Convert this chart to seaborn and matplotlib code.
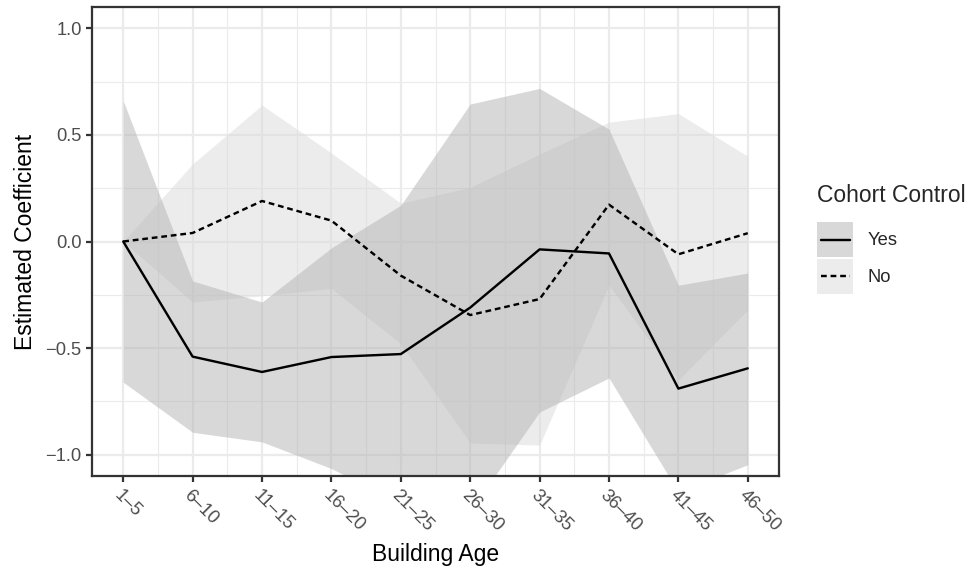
import numpy as np
import pandas as pd
import matplotlib
matplotlib.use("Agg")
import matplotlib.pyplot as plt
import seaborn as sns
from matplotlib.patches import Rectangle
from matplotlib.lines import Line2D
from matplotlib.ticker import MultipleLocator, FixedLocator

# building age bins
ages = ["1–5", "6–10", "11–15", "16–20", "21–25",
        "26–30", "31–35", "36–40", "41–45", "46–50"]

# cohort control: yes
yes_est = [0.0, -0.54, -0.612, -0.542, -0.528, -0.31, -0.037, -0.056, -0.69, -0.595]
yes_lo = [-0.66, -0.895, -0.94, -1.065, -1.23, -1.265, -0.80, -0.64, -1.175, -1.047]
yes_hi = [0.66, -0.185, -0.284, -0.03, 0.17, 0.645, 0.718, 0.527, -0.205, -0.148]

# cohort control: no
no_est = [0.0, 0.04, 0.19, 0.098, -0.16, -0.345, -0.27, 0.173, -0.06, 0.039]
no_lo = [0.0, -0.284, -0.255, -0.22, -0.48, -0.945, -0.955, -0.205, -0.65, -0.32]
no_hi = [0.0, 0.364, 0.64, 0.415, 0.18, 0.254, 0.41, 0.56, 0.60, 0.40]

groups = ["Yes", "No"]

df = pd.DataFrame({
    "age": ages * 2,
    "est": yes_est + no_est,
    "lo": yes_lo + no_lo,
    "hi": yes_hi + no_hi,
    "cohort": ["Yes"] * len(ages) + ["No"] * len(ages),
})
df["pos"] = df["age"].map({a: i for i, a in enumerate(ages)})

sns.set_style("white")
plt.rcParams["font.family"] = ["Liberation Sans", "DejaVu Sans"]

FILL = {"Yes": "#b3b3b3", "No": "#dbdbdb"}
DASH = {"Yes": "", "No": (2.4, 1.6)}
LW = 1.15


class RibbonKey:
    """legend key: ribbon fill behind a line, like ggplot"""
    def __init__(self, group):
        self.group = group


class RibbonKeyHandler:
    def legend_artist(self, legend, orig_handle, fontsize, handlebox):
        g = orig_handle.group
        x0, y0 = -handlebox.xdescent, -handlebox.ydescent
        w, h = handlebox.width, handlebox.height
        tr = handlebox.get_transform()
        rect = Rectangle((x0, y0 + 0.3), w, h - 0.6, facecolor=FILL[g], alpha=0.5,
                         edgecolor="none", transform=tr)
        line = Line2D([x0 + 0.1 * w, x0 + 0.9 * w], [y0 + h / 2] * 2,
                      color="black", lw=LW, transform=tr)
        if DASH[g]:
            line.set_dashes(DASH[g])
        handlebox.add_artist(rect)
        handlebox.add_artist(line)
        return rect


W, H, DPI = 979, 573, 150
fig = plt.figure(figsize=(W / DPI, H / DPI), dpi=DPI)
ax = fig.add_axes([92 / W, 1 - 476 / H, (779 - 92) / W, (476 - 7) / H])

# grid (theme_bw look)
ax.set_axisbelow(True)
ax.xaxis.set_minor_locator(FixedLocator(np.arange(0.5, 9, 1)))
ax.yaxis.set_minor_locator(MultipleLocator(0.25))
ax.grid(which="major", color="#ebebeb", lw=1.07)
ax.grid(which="minor", color="#ebebeb", lw=0.53)

# ribbons
for g in ["No", "Yes"]:
    sub = df[df["cohort"] == g]
    ax.fill_between(sub["pos"], sub["lo"], sub["hi"], color=FILL[g],
                    alpha=0.5, lw=0, zorder=1)

sns.lineplot(data=df, x="pos", y="est", style="cohort", style_order=groups,
             dashes=DASH, color="black", lw=LW, legend=False, sort=False,
             ax=ax, zorder=3)

ax.set_xlim(-0.45, 9.45)
ax.set_ylim(-1.1, 1.1)
ax.set_xticks(range(len(ages)))
ax.set_xticklabels(ages)
ax.set_yticks([-1.0, -0.5, 0.0, 0.5, 1.0])

for spine in ax.spines.values():
    spine.set_edgecolor("#333333")
    spine.set_linewidth(1.07)
ax.tick_params(which="major", length=2.75, width=1.07, color="#333333",
               labelcolor="#4d4d4d", labelsize=8.8, pad=2.2,
               bottom=True, left=True)
ax.tick_params(which="minor", length=0)
for lbl in ax.get_xticklabels():
    lbl.set_rotation(-45)
    lbl.set_ha("left")
    lbl.set_va("top")
    lbl.set_rotation_mode("anchor")

ax.set_xlabel("Building Age", fontsize=11, color="black", labelpad=4)
ax.set_ylabel("Estimated Coefficient", fontsize=11, color="black", labelpad=4)

keys = [RibbonKey(g) for g in groups]
leg = fig.legend(keys, groups, handler_map={RibbonKey: RibbonKeyHandler()},
                 loc="upper left", bbox_to_anchor=(817 / W, 1 - 184 / H),
                 frameon=False, fontsize=8.8, title="Cohort Control",
                 title_fontsize=11, alignment="left", borderpad=0,
                 borderaxespad=0, handlelength=1.97, handleheight=2.71,
                 labelspacing=0.0, handletextpad=0.77)
# gap between legend title and keys
leg._legend_box.sep = 6.8

fig.savefig("out.png", dpi=DPI, facecolor="white")
